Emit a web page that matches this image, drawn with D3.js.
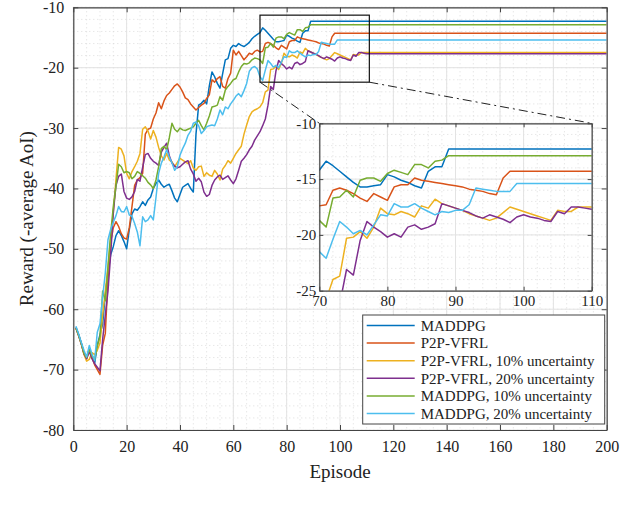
<!DOCTYPE html>
<html>
<head>
<meta charset="utf-8">
<script src="https://cdn.jsdelivr.net/npm/d3@7"></script>
<style>
  body { margin: 0; background: #fff; }
  text { font-family: "Liberation Serif", "Times New Roman", serif; fill: #222; }
</style>
</head>
<body>
<div id="chart"></div>
<script>
const svgWidth = 640;
const svgHeight = 507;

// reward per episode (episode = index + 1); each curve stays flat after its last value
const maddpg = [
  -63, -64.2, -65.6, -67.2, -68, -66.6, -67.9, -69, -66, -64.2,
  -62.5, -57.5, -54, -51, -49.6, -47.8, -47, -47.8, -48.8, -50,
  -46.8, -44.2, -43.4, -43.6, -43, -42.2, -42.8, -41.9, -41.4, -40,
  -39.2, -38.6, -39.3, -39.8, -39.5, -39.3, -40.4, -41.6, -42.2, -41,
  -39.8, -39.5, -39.2, -40, -40.6, -31, -26.2, -25.9, -25.4, -26,
  -23, -20.7, -21.5, -22.6, -23.4, -21, -18.7, -18.5, -16.8, -16.3,
  -16.5, -16, -16.3, -16.5, -16.2, -15.8, -15.2, -14.8, -14.5, -14.2,
  -13.4, -13.8, -14.3, -14.8, -15.3, -15.7, -15.7, -15.6, -15.5, -14.6,
  -14.8, -15.1, -15.3, -15.6, -15.8, -14.3, -13.9, -13.9, -12.3
];
const p2pVfrl = [
  -63.2, -64.4, -65.8, -67.3, -68.2, -66.8, -68, -69.2, -70, -70.8,
  -66, -64, -55, -49, -46.5, -45.5, -46.3, -47.5, -48.2, -48.4,
  -46.5, -43, -39.5, -38.6, -38.2, -37.5, -31, -30.2, -30, -28.5,
  -27.5, -25.8, -26.8, -25.5, -24.6, -24.2, -23.6, -23, -22.7, -23.2,
  -24, -25, -25.3, -26, -26.5, -27, -26.6, -26.2, -25.9, -25.1,
  -24.5, -22, -22.4, -21.8, -21.5, -23.1, -23.4, -21.8, -20.9, -17.1,
  -17.9, -17.3, -18, -18.7, -18.2, -17.6, -17.8, -17.3, -17.1, -17.4,
  -17.3, -16, -15.8, -16, -16.3, -16.7, -17, -16.3, -16.6, -16.9,
  -15.7, -15.5, -15.5, -14.9, -15.1, -15.2, -15.3, -15.4, -15.5, -15.6,
  -15.7, -15.9, -16, -16.1, -16.3, -16.4, -14.9, -14.3
];
const p2pVfrl10 = [
  -63.1, -64.3, -65.7, -67.5, -68.6, -68.3, -67.2, -67.5, -66.8, -65.6,
  -61, -57, -53, -48.5, -44, -38.5, -33.2, -33.5, -34.6, -37.5,
  -38.4, -37.2, -36.4, -35.5, -34.2, -30.2, -29.8, -30.5, -31.8, -30.4,
  -31.5, -33.2, -34.6, -35.3, -34.2, -35.3, -35.6, -36.4, -35.7, -35,
  -35.3, -35.6, -35.9, -35.4, -36.6, -37, -36.4, -36.3, -38, -37.4,
  -37.8, -38, -37, -37.6, -38.6, -36.8, -36.2, -35.4, -35.8, -35,
  -34.2, -33.6, -33, -31, -29.5, -28.1, -27.3, -27, -26.8, -26.5,
  -25.8, -24, -23.7, -20.3, -20.2, -19.7, -20.3, -19.3, -17.6, -18.1,
  -18.2, -17.9, -18.1, -18.4, -17.4, -17.6, -16.8, -17.2, -17.4, -17.6,
  -17.8, -18.1, -18.3, -18.5, -18.7, -18.5, -18, -17.5, -17.7, -17.9,
  -18.1, -18.3, -18.5, -18.7, -17.8, -17.9, -17.9, -17.5, -17.5, -17.5
];
const p2pVfrl20 = [
  -63.1, -64.3, -65.7, -67.4, -68.2, -67, -68.2, -69, -69.6, -70.2,
  -65, -61, -57, -51, -44, -39.5, -38, -37.6, -40.5, -41.6,
  -41.8, -41.4, -40.5, -38.5, -38.8, -36.5, -34.4, -34.2, -35, -35.5,
  -35.8, -36.2, -34, -33.2, -32.5, -34.6, -35.8, -36.3, -36.6, -36.4,
  -36, -35.6, -35.4, -36.8, -37.6, -38.8, -38.3, -38.9, -40.6, -41.3,
  -41, -39.5, -38.6, -38.1, -37.8, -38.5, -38.2, -37.9, -38.6, -39.2,
  -38.4, -37, -35.5, -35, -34.4, -33.6, -33, -32, -31.3, -30.6,
  -29.6, -28.5, -26.2, -23.1, -23.6, -20.5, -18.8, -19.3, -19.7, -20.2,
  -19.9, -20.2, -19.3, -19.1, -19.5, -19.3, -19, -17.2, -17.4, -17.6,
  -17.8, -18, -18.3, -18.5, -18.2, -18.4, -18.6, -18.9, -18.4, -18.2,
  -18.4, -18.5, -18.7, -18.8, -17.9, -18.1, -17.5, -17.5, -17.6, -17.7
];
const maddpg10 = [
  -63.1, -64.3, -65.7, -67.3, -68, -66.6, -67.7, -68.4, -66, -64.5,
  -57, -58.6, -53, -47.5, -43, -39.6, -36, -36.4, -37.4, -37.2,
  -37.4, -38.4, -38, -37.2, -37.5, -37.9, -38.3, -39, -39.4, -40,
  -38.6, -36.4, -33.4, -33, -33.6, -31.6, -29.2, -30.2, -30.6, -30,
  -30.3, -30.4, -30.2, -30, -29.8, -29.2, -28.7, -29.6, -30.3, -29.2,
  -28, -26.5, -26.4, -26.2, -24.8, -25.4, -23.7, -23.1, -22.6, -22,
  -21.8, -20.7, -19.8, -19.3, -19.4, -19.2, -18.7, -18.4, -18.5, -18.7,
  -19.3, -16.7, -16.6, -16, -16.6, -15.1, -14.9, -14.9, -15.2, -14.5,
  -14.2, -14.4, -14.6, -13.7, -13.7, -14, -13.4, -13.3, -12.9
];
const maddpg20 = [
  -62.8, -64.1, -65.5, -66.8, -67.9, -66, -67.4, -68.5, -63.8, -62.4,
  -58, -54, -48.5, -46.8, -45.6, -44.5, -43, -43.8, -43.9, -43,
  -44.4, -44.6, -45.8, -47.2, -49.5, -44.7, -45.5, -45.2, -44.5, -45.2,
  -41.5, -37.5, -35.8, -34.8, -33.6, -34.8, -35.8, -37, -36.4, -34.5,
  -33.4, -32.5, -31.2, -30.5, -29.2, -29, -29.6, -30.9, -30.4, -29.8,
  -29.6, -29.5, -29.6, -28.5, -27, -27.8, -26.5, -26.8, -26, -25.4,
  -24.7, -24.3, -24.8, -23.8, -22.6, -20.6, -20, -19.8, -20.2, -21.5,
  -22.1, -20.4, -18.8, -19.3, -19.9, -19.6, -20, -19.1, -18.2, -18.3,
  -17.2, -17.5, -17.5, -17.2, -17.6, -17.9, -18.2, -17.9, -18, -17.8,
  -17.8, -17.3, -15.8, -15.9, -16, -16.1, -16.1, -16.1, -15.4
];

const seriesNames = [
  "MADDPG",
  "P2P-VFRL",
  "P2P-VFRL, 10% uncertainty",
  "P2P-VFRL, 20% uncertainty",
  "MADDPG, 10% uncertainty",
  "MADDPG, 20% uncertainty"
];
const seriesValues = [maddpg, p2pVfrl, p2pVfrl10, p2pVfrl20, maddpg10, maddpg20];
const seriesColors = ["#0072BD", "#D95319", "#EDB120", "#7E2F8E", "#77AC30", "#4DBEEE"];

const lastEpisode = 200;
const xTicks = [0, 20, 40, 60, 80, 100, 120, 140, 160, 180, 200];
const yTicks = [-80, -70, -60, -50, -40, -30, -20, -10];
const insetXTicks = [70, 80, 90, 100, 110];
const insetYTicks = [-25, -20, -15, -10];
const zoomBox = { x0: 70, x1: 111, y0: -22.4, y1: -11.3 };

const series = seriesNames.map((name, i) => ({
  name,
  color: seriesColors[i],
  points: seriesValues[i].map((v, j) => [j + 1, v])
    .concat([[lastEpisode, seriesValues[i][seriesValues[i].length - 1]]])
}));

const svg = d3.select("#chart")
  .append("svg")
  .attr("width", svgWidth)
  .attr("height", svgHeight);

const axisColor = "#444";

function drawPanel(g, x, y, opts) {
  const [xa, xb] = x.range();
  const [yb, ya] = y.range();
  const id = opts.id;

  g.append("rect")
    .attr("x", xa).attr("y", ya)
    .attr("width", xb - xa).attr("height", yb - ya)
    .attr("fill", "#fff");

  // minor grid (dotted)
  const minorX = d3.range(x.domain()[0], x.domain()[1] + 1e-9, opts.minorX);
  const minorY = d3.range(y.domain()[0], y.domain()[1] + 1e-9, opts.minorY);
  g.append("g").selectAll("line").data(minorX).join("line")
    .attr("x1", d => x(d)).attr("x2", d => x(d))
    .attr("y1", ya).attr("y2", yb)
    .attr("stroke", "#d4d4d4").attr("stroke-width", 0.8)
    .attr("stroke-dasharray", "1,3");
  g.append("g").selectAll("line").data(minorY).join("line")
    .attr("y1", d => y(d)).attr("y2", d => y(d))
    .attr("x1", xa).attr("x2", xb)
    .attr("stroke", "#d4d4d4").attr("stroke-width", 0.8)
    .attr("stroke-dasharray", "1,3");

  // major grid
  g.append("g").selectAll("line").data(opts.xTicks).join("line")
    .attr("x1", d => x(d)).attr("x2", d => x(d))
    .attr("y1", ya).attr("y2", yb)
    .attr("stroke", "#e3e3e3").attr("stroke-width", 1);
  g.append("g").selectAll("line").data(opts.yTicks).join("line")
    .attr("y1", d => y(d)).attr("y2", d => y(d))
    .attr("x1", xa).attr("x2", xb)
    .attr("stroke", "#e3e3e3").attr("stroke-width", 1);

  // curves
  g.append("clipPath").attr("id", id)
    .append("rect")
    .attr("x", xa).attr("y", ya)
    .attr("width", xb - xa).attr("height", yb - ya);

  const line = d3.line().x(d => x(d[0])).y(d => y(d[1]));
  g.append("g").attr("clip-path", `url(#${id})`)
    .selectAll("path").data(series).join("path")
    .attr("d", d => line(d.points))
    .attr("fill", "none")
    .attr("stroke", d => d.color)
    .attr("stroke-width", opts.lineWidth)
    .attr("stroke-linejoin", "round");

  // axes, ticks pointing inwards, box on
  const fmt = d => String(d);
  const styleAxis = a => {
    a.select(".domain").attr("stroke", axisColor).attr("stroke-width", 1.2);
    a.selectAll(".tick line").attr("stroke", axisColor);
    a.selectAll("text").attr("fill", "#222")
      .style("font-family", '"Liberation Serif", serif')
      .style("font-size", opts.fontSize + "px");
  };

  g.append("g").attr("transform", `translate(0,${yb})`)
    .call(d3.axisBottom(x).tickValues(opts.xTicks).tickFormat(fmt)
      .tickSizeInner(-opts.tick).tickSizeOuter(0).tickPadding(opts.xPad))
    .call(styleAxis);
  g.append("g").attr("transform", `translate(${xa},0)`)
    .call(d3.axisLeft(y).tickValues(opts.yTicks).tickFormat(fmt)
      .tickSizeInner(-opts.tick).tickSizeOuter(0).tickPadding(opts.yPad))
    .call(styleAxis);
  g.append("g").attr("transform", `translate(0,${ya})`)
    .call(d3.axisTop(x).tickValues(opts.xTicks).tickFormat("")
      .tickSizeInner(-opts.tick).tickSizeOuter(0))
    .call(styleAxis);
  g.append("g").attr("transform", `translate(${xb},0)`)
    .call(d3.axisRight(y).tickValues(opts.yTicks).tickFormat("")
      .tickSizeInner(-opts.tick).tickSizeOuter(0))
    .call(styleAxis);
}

// main axes
const x = d3.scaleLinear().domain([0, 200]).range([73.3, 606.7]);
const y = d3.scaleLinear().domain([-80, -10]).range([430, 7.3]);
const main = svg.append("g");
drawPanel(main, x, y, {
  id: "clip-main", xTicks, yTicks, minorX: 5, minorY: 2,
  tick: 5, xPad: 11, yPad: 9, fontSize: 16, lineWidth: 1.5
});

// zoom rectangle on the main axes
main.append("rect")
  .attr("x", x(zoomBox.x0)).attr("y", y(zoomBox.y1))
  .attr("width", x(zoomBox.x1) - x(zoomBox.x0))
  .attr("height", y(zoomBox.y0) - y(zoomBox.y1))
  .attr("fill", "none").attr("stroke", "#111").attr("stroke-width", 1.2);

// inset axes
const xi = d3.scaleLinear().domain([70, 110]).range([319.3, 591.7]);
const yi = d3.scaleLinear().domain([-25, -10]).range([290.7, 123.3]);

// dash-dot connectors from the zoom box to the inset
const connectors = [
  [[x(zoomBox.x0), y(zoomBox.y0)], [xi.range()[0], yi.range()[1]]],
  [[x(zoomBox.x1), y(zoomBox.y0)], [xi.range()[1], yi.range()[1]]]
];
main.append("g").selectAll("line").data(connectors).join("line")
  .attr("x1", d => d[0][0]).attr("y1", d => d[0][1])
  .attr("x2", d => d[1][0]).attr("y2", d => d[1][1])
  .attr("stroke", "#222").attr("stroke-width", 1)
  .attr("stroke-dasharray", "9,4,2,4");

const inset = svg.append("g");
drawPanel(inset, xi, yi, {
  id: "clip-inset", xTicks: insetXTicks, yTicks: insetYTicks, minorX: 2, minorY: 1,
  tick: 4, xPad: 5, yPad: 3, fontSize: 15, lineWidth: 1.5
});

// axis labels
svg.append("text")
  .attr("x", (x.range()[0] + x.range()[1]) / 2)
  .attr("y", 478)
  .attr("text-anchor", "middle")
  .style("font-size", "19px")
  .text("Episode");

svg.append("text")
  .attr("transform", `translate(33,${(y.range()[0] + y.range()[1]) / 2}) rotate(-90)`)
  .attr("text-anchor", "middle")
  .style("font-size", "19px")
  .text("Reward (-average AoI)");

// legend
const legend = { x: 362.7, y: 315, w: 242, h: 109, row: 17.6 };
const legendGroup = svg.append("g");
legendGroup.append("rect")
  .attr("x", legend.x).attr("y", legend.y)
  .attr("width", legend.w).attr("height", legend.h)
  .attr("fill", "#fff").attr("stroke", axisColor).attr("stroke-width", 1);

const rows = legendGroup.selectAll("g.row").data(series).join("g")
  .attr("class", "row")
  .attr("transform", (d, i) => `translate(${legend.x}, ${legend.y + 10.5 + i * legend.row})`);
rows.append("line")
  .attr("x1", 4).attr("x2", 52)
  .attr("stroke", d => d.color).attr("stroke-width", 1.5);
rows.append("text")
  .attr("x", 58).attr("dy", "0.35em")
  .style("font-size", "15px")
  .text(d => d.name);
</script>
</body>
</html>
